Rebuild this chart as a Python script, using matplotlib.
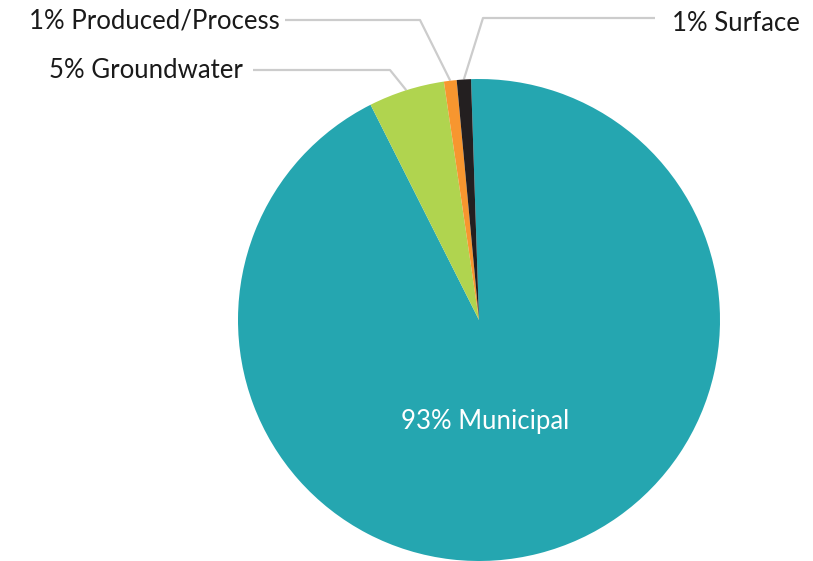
import numpy as np
import matplotlib.pyplot as plt

labels = ["Municipal", "Groundwater", "Produced/Process", "Surface"]
values = [93.1, 5.1, 0.85, 0.95]
pct_labels = ["93%", "5%", "1%", "1%"]
colors = ["#25A6B0", "#B0D44F", "#F7962F", "#231F20"]

W, H = 813, 561
plt.rcParams['font.family'] = ['Lato', 'DejaVu Sans']

fig = plt.figure(figsize=(W / 100, H / 100), dpi=100)
ax = fig.add_axes([0, 0, 1, 1])

cx, cy, r = 479, H - 320, 241
wedges, _ = ax.pie(values, colors=colors, startangle=91.9, counterclock=False,
                   center=(cx, cy), radius=r, frame=True,
                   wedgeprops=dict(linewidth=0))
ax.set_xlim(0, W)
ax.set_ylim(0, H)
ax.set_aspect('equal')
ax.axis('off')

# leader lines: elbow point and end of horizontal run (pixel coords, y from top)
leaders = {
    1: ((390, 70), 253, 'right', 243, 70),
    2: ((420, 20), 285, 'right', 280, 21),
    3: ((483, 18), 655, 'left', 672, 23),
}
for i, (elbow, xend, ha, xtext, ytext) in leaders.items():
    w = wedges[i]
    mid = np.deg2rad((w.theta1 + w.theta2) / 2)
    sx, sy = cx + r * np.cos(mid), cy + r * np.sin(mid)
    ex, ey = elbow[0], H - elbow[1]
    ax.plot([sx, ex, xend], [sy, ey, ey], color="#CCCCCC", lw=1.6,
            solid_capstyle='butt', zorder=0)
    ax.text(xtext, H - ytext, f"{pct_labels[i]} {labels[i]}", ha=ha, va='center',
            fontsize=18.5, color="#1a1a1a")

ax.text(485, H - 422, f"{pct_labels[0]} {labels[0]}", ha='center', va='center',
        fontsize=18.5, color="white")

fig.savefig("out.png", dpi=100)
